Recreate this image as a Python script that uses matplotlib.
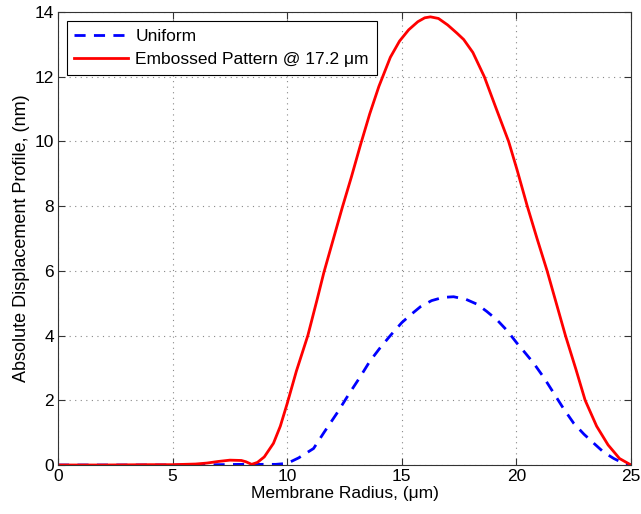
import matplotlib
matplotlib.use("Agg")
import matplotlib.pyplot as plt

# values
radius_uniform = [0, 5, 7, 8, 9, 9.5, 10.0, 10.5, 11.15, 11.6, 12.17, 12.7, 13.19, 13.6,
                  14.03, 14.5, 15.0, 15.4, 15.81, 16.3, 16.8, 17.26, 17.8, 18.28, 18.7,
                  19.16, 19.6, 20.03, 20.4, 20.76, 21.2, 21.63, 22.05, 22.5, 22.95, 23.38,
                  23.8, 24.25, 24.6, 25]
disp_uniform = [0, 0, 0.01, 0.02, 0.02, 0.02, 0.05, 0.22, 0.51, 1.0, 1.6, 2.2, 2.73, 3.2,
                3.6, 4.0, 4.4, 4.65, 4.89, 5.08, 5.18, 5.2, 5.12, 4.97, 4.75,
                4.48, 4.15, 3.76, 3.45, 3.14, 2.7, 2.22, 1.75, 1.29, 0.95, 0.67,
                0.4, 0.2, 0.08, 0]

radius_emb = [0, 2, 4, 5, 6, 6.5, 7, 7.5, 8, 8.2, 8.45, 8.7, 9.0, 9.4, 9.7, 10.0, 10.4,
              10.9, 11.3, 11.6, 12.0, 12.4, 12.8, 13.2, 13.6, 14.0, 14.5, 14.9, 15.3,
              15.7, 16.0, 16.25, 16.6, 17.0, 17.4, 17.7, 18.1, 18.6, 19.1, 19.66, 20.03,
              20.47, 20.9, 21.34, 21.7, 22.14, 22.6, 23.0, 23.5, 24.0, 24.5, 25]
disp_emb = [0, 0, 0.01, 0.01, 0.03, 0.06, 0.11, 0.15, 0.14, 0.1, 0.02, 0.08, 0.25, 0.67,
            1.2, 1.9, 2.9, 4.0, 5.1, 5.95, 6.95, 7.95, 8.9, 9.9, 10.85, 11.7, 12.6, 13.1,
            13.45, 13.7, 13.82, 13.85, 13.8, 13.6, 13.35, 13.15, 12.75, 12.0, 11.05, 10.0,
            9.12, 8.01, 7.0, 6.0, 5.1, 4.0, 2.95, 2.0, 1.2, 0.62, 0.2, 0]

plt.rcParams['font.family'] = ['Liberation Sans', 'DejaVu Sans']

fig = plt.figure(figsize=(6.41, 5.14), dpi=100)
ax = fig.add_axes([58 / 641, 49 / 514, 573 / 641, 453 / 514])

ax.plot(radius_uniform, disp_uniform, color='#0000ff', linestyle=(0, (4, 3)),
        linewidth=2, label='Uniform')
ax.plot(radius_emb, disp_emb, color='#ff0000', linewidth=2,
        label='Embossed Pattern @ 17.2 \u03bcm')

ax.set_xlim(0, 25)
ax.set_ylim(0, 14)
ax.set_xticks([0, 5, 10, 15, 20, 25])
ax.set_yticks([0, 2, 4, 6, 8, 10, 12, 14])
ax.grid(True, linestyle=(0, (1, 4)), color='#888888', linewidth=0.8)
ax.tick_params(direction='in', top=True, right=True, labelsize=12.5, length=5,
               color='#333333', pad=3)
for s in ax.spines.values():
    s.set_color('#333333')

ax.set_xlabel('Membrane Radius, (\u03bcm)', fontsize=12.5, labelpad=1)
ax.set_ylabel('Absolute Displacement Profile, (nm)', fontsize=13, labelpad=3)

leg = ax.legend(loc='upper left', fontsize=12.5, fancybox=False, edgecolor='black',
                framealpha=1, handlelength=3.1, borderaxespad=0.5, borderpad=0.45,
                labelspacing=0.5, handletextpad=0.4)
leg.get_frame().set_linewidth(0.8)

fig.savefig('out.png', dpi=100)
